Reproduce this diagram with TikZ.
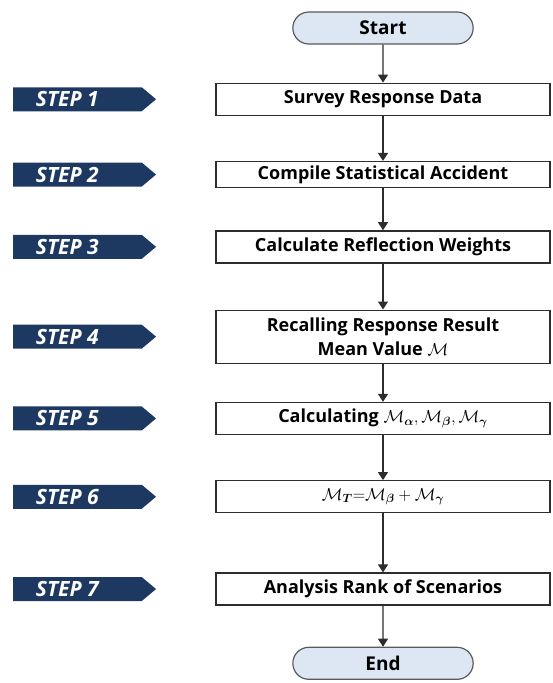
\documentclass[tikz,border=0pt]{standalone}
\usepackage{amsmath,amssymb}
\usepackage{fontspec}
\setmainfont{Open Sans}
\usepackage{tikz}
\usetikzlibrary{positioning,shapes.misc,shapes.symbols,arrows.meta}

\definecolor{stepblue}{RGB}{29,57,97}
\definecolor{termfill}{RGB}{221,231,243}
\definecolor{termdraw}{RGB}{90,90,90}
\definecolor{lineclr}{RGB}{45,45,45}

\tikzset{
  terminal/.style={rounded rectangle, draw=termdraw, line width=1.2pt, fill=termfill,
    minimum width=187pt, minimum height=32pt, font=\fontsize{19}{22}\selectfont\bfseries},
  procbox/.style={rectangle, draw=lineclr, line width=1.3pt, minimum width=334pt,
    minimum height=32pt, align=center, font=\fontsize{18}{24}\selectfont\bfseries},
  stepsig/.style={signal, signal to=east, signal pointer angle=80, fill=stepblue,
    minimum width=143pt, minimum height=24pt, inner sep=0pt, text=white,
    font=\fontsize{21}{22}\selectfont\bfseries\itshape,
    execute at end node=\hspace*{20pt}},
}

\begin{document}
\begin{tikzpicture}[x=1pt, y=1pt, >={Triangle[width=10pt,length=8pt]}]
\useasboundingbox (0,0) rectangle (552,-683);
\node (start) [terminal] at (383,-28) {Start};
\node (b1) [procbox, below=38pt of start] {Survey Response Data};
\node (b2) [procbox, minimum height=26pt, below=45pt of b1] {Compile Statistical Accident};
\node (b3) [procbox, below=42pt of b2] {Calculate Reflection Weights};
\node (b4) [procbox, minimum height=53pt, below=46pt of b3] {Recalling Response Result\\Mean Value $\mathcal{M}$};
\node (b5) [procbox, below=38pt of b4] {Calculating $\mathcal{M}_{\boldsymbol\alpha},\mathcal{M}_{\boldsymbol\beta},\mathcal{M}_{\boldsymbol\gamma}$};
\node (b6) [procbox, below=45pt of b5] {$\mathcal{M}_{\boldsymbol T}{=}\mathcal{M}_{\boldsymbol\beta}+\mathcal{M}_{\boldsymbol\gamma}$};
\node (b7) [procbox, below=59pt of b6] {Analysis Rank of Scenarios};
\node (end) [terminal, below=41pt of b7] {End};
% step markers
\node (st1) [stepsig, left=59pt of b1] {STEP 1};
\node (st2) [stepsig, left=59pt of b2] {STEP 2};
\node (st3) [stepsig, left=59pt of b3] {STEP 3};
\node (st4) [stepsig, left=59pt of b4] {STEP 4};
\node (st5) [stepsig, left=59pt of b5] {STEP 5};
\node (st6) [stepsig, left=59pt of b6] {STEP 6};
\node (st7) [stepsig, left=59pt of b7] {STEP 7};
\draw[->, lineclr, line width=1.2pt] (start) -- (b1);
\draw[->, lineclr, line width=1.2pt] (b1) -- (b2);
\draw[->, lineclr, line width=1.2pt] (b2) -- (b3);
\draw[->, lineclr, line width=1.2pt] (b3) -- (b4);
\draw[->, lineclr, line width=1.2pt] (b4) -- (b5);
\draw[->, lineclr, line width=1.2pt] (b5) -- (b6);
\draw[->, lineclr, line width=1.2pt] (b6) -- (b7);
\draw[->, lineclr, line width=1.2pt] (b7) -- (end);
\end{tikzpicture}
\end{document}
